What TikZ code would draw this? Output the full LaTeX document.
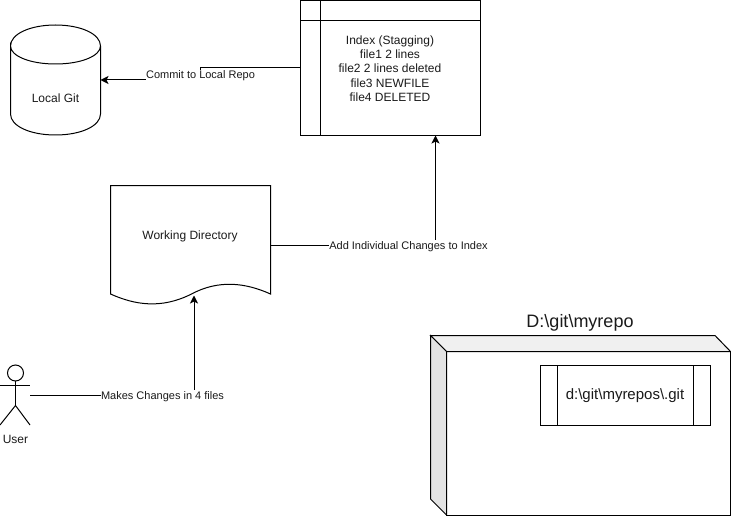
\documentclass[tikz,border=0pt]{standalone}
\usepackage{fontspec}
\setmainfont{Liberation Sans}
\usetikzlibrary{arrows.meta,calc}
\definecolor{ink}{HTML}{000000}
\definecolor{txt}{HTML}{1A1A1A}
\tikzset{
  x=1pt,y=-1pt,
  every node/.style={text=txt,font=\fontsize{11}{13}\selectfont,inner sep=0pt,outer sep=0pt},
  flow/.style={-{Stealth[length=8pt,width=8pt,inset=2pt]}},
  edgelabel/.style={fill=white,inner xsep=0pt,inner ysep=1pt,font=\fontsize{11}{11}\selectfont},
  shapetext/.style={font=\fontsize{12}{14.3}\selectfont,align=center},
  boxnode/.style={draw,rectangle,minimum width=#1},
  region/.style={rectangle}
}
\begin{document}
\begin{tikzpicture}[line width=1pt,draw=ink]
\useasboundingbox (0,0) rectangle (731,516);
% Local Git cylinder
\node[region,minimum width=90pt,minimum height=110pt] (git) at (55.5,80) {};
\draw (10.5,46)
  .. controls (10.5,34) and (30,25) .. (55.5,25)
  .. controls (81,25) and (100.5,34) .. (100.5,46)
  .. controls (100.5,56) and (81,64) .. (55.5,64)
  .. controls (30,64) and (10.5,56) .. (10.5,46)
  -- (10.5,114)
  .. controls (10.5,126) and (30,135) .. (55.5,135)
  .. controls (81,135) and (100.5,126) .. (100.5,114)
  -- (100.5,46);
\node[shapetext] (gitlabel) at (55.5,98) {Local Git};
% Index
\node[boxnode=180pt,minimum height=134.5pt,shapetext] (index) at (390.5,68) {};
\draw (320.5,0.5) -- (320.5,135.2);
\draw (300.5,20.5) -- (480.5,20.5);
\node[shapetext] (indextext) at (390,68.5) {Index (Stagging)\\file1 2 lines\\file2 2 lines deleted\\file3 NEWFILE\\file4 DELETED};
% Working directory
\node[region,minimum width=160pt,minimum height=120pt] (wd) at (190.5,245) {};
\draw (110.5,185.5) -- (270.5,185.5) -- (270.5,294)
  .. controls (246,283) and (219,279) .. (190.5,294.5)
  .. controls (161,309) and (135,305) .. (110.5,294)
  -- cycle;
\node[shapetext] (wdlabel) at (190,236) {Working Directory};
% User
\node[region,minimum width=30pt,minimum height=60pt] (user) at (15,395) {};
\draw (15.5,373) circle[radius=8];
\draw (15.5,381) -- (15.5,405.5);
\draw (0,385.5) -- (30,385.5);
\draw (0,425) -- (15.5,405.5) -- (30,425);
\node[shapetext] (userlabel) at (15.5,439) {User};
% Connectors
\coordinate (idxin) at (435.5,135.5);
\coordinate (wdin) at (194,295.5);
\coordinate (elbowa) at (200,68);
\coordinate (elbowb) at (200,80);
\draw[flow] (index.west) -- (elbowa) -- (elbowb) -- (git.east);
\node[edgelabel] (la) at (200.5,76) {Commit to Local Repo};
\draw[flow] (wd.east) -| (idxin);
\node[edgelabel] (lb) at (408.5,246.5) {Add Individual Changes to Index};
\draw[flow] (user.east) -| (wdin);
\node[edgelabel] (lc) at (162.5,396.5) {Makes Changes in 4 files};
% 3D box
\node[region] (boxtitle) at (580,322.5) {\fontsize{18}{18}\selectfont D:\textbackslash git\textbackslash myrepo};
\filldraw[fill=white] (446.5,351.5) rectangle (730.5,515);
\filldraw[fill=black!6] (430.5,335.5) -- (715,335.5) -- (730.5,351.5) -- (446.5,351.5) -- cycle;
\filldraw[fill=black!11] (430.5,335.5) -- (446.5,351.5) -- (446.5,515) -- (430.5,499) -- cycle;
\node[boxnode=170pt,minimum height=60pt] (gitdir) at (625.5,395.5) {};
\draw (557.5,365.5) -- (557.5,425.5);
\draw (693.5,365.5) -- (693.5,425.5);
\node[font=\fontsize{15}{17}\selectfont] (gitdirlabel) at (625,396) {d:\textbackslash git\textbackslash myrepos\textbackslash .git};
\end{tikzpicture}
\end{document}
